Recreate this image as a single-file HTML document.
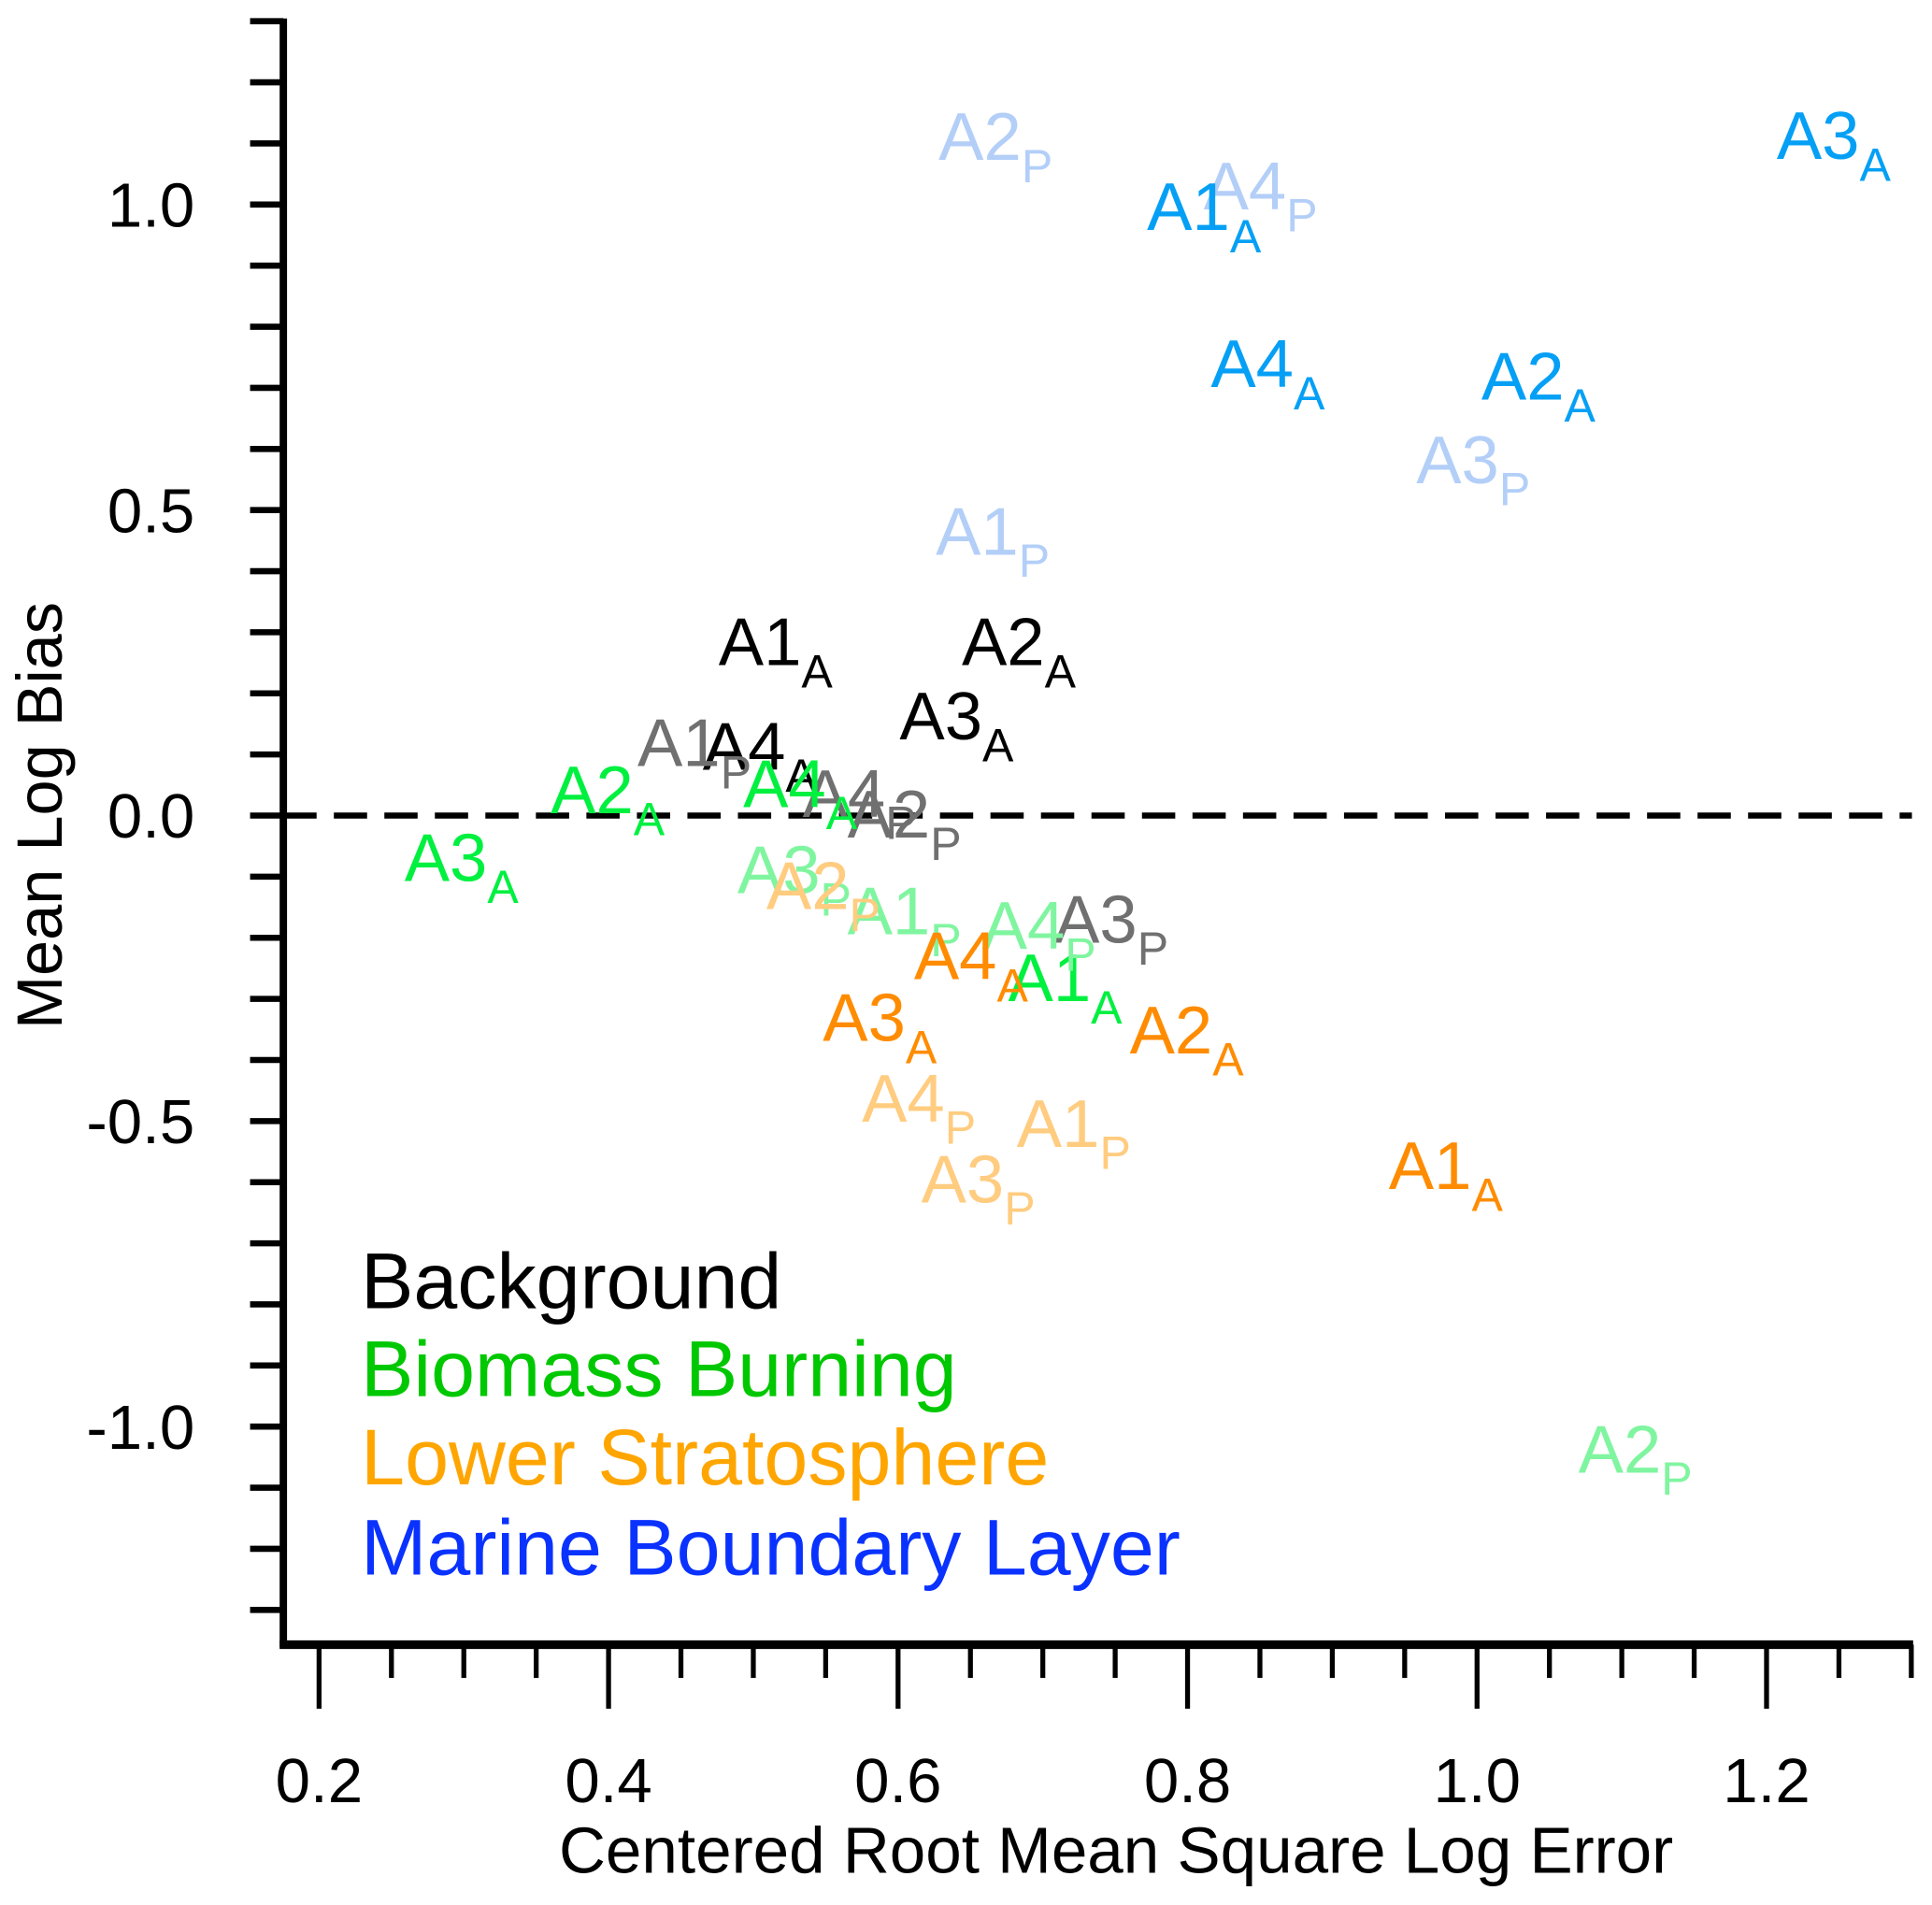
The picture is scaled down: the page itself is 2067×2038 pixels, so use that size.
<!DOCTYPE html>
<html><head><meta charset="utf-8"><style>
html,body{margin:0;padding:0;background:#fff;}
svg{display:block;font-family:"Liberation Sans",Arial,sans-serif;}
</style></head><body>
<svg id="chart" width="2067" height="2038" viewBox="0 0 1568.3 1546.3" xmlns="http://www.w3.org/2000/svg">
<g id="axes"></g>
<g id="marks"></g>
<g id="legend">
<text x="293" y="1062" font-size="64" fill="#000">Background</text>
<text x="293" y="1133" font-size="64" fill="#00c800">Biomass Burning</text>
<text x="293" y="1205" font-size="64" fill="#ffa500">Lower Stratosphere</text>
<text x="293" y="1278" font-size="64" fill="#0a32ff">Marine Boundary Layer</text>
</g>
</svg>
<script>
const xTickLabels = ["0.2","0.4","0.6","0.8","1.0","1.2"];
const xTickValues = [0.2,0.4,0.6,0.8,1.0,1.2];
const yTickLabels = ["1.0","0.5","0.0","-0.5","-1.0"];
const yTickValues = [1.0,0.5,0.0,-0.5,-1.0];
// label text, subscript, group, x value, y value
const pointNames = ["A2","A4","A3","A1","A3","A1","A4","A2",
 "A1","A2","A3","A4","A1","A4","A2","A3",
 "A2","A3","A4","A1","A3","A1","A4","A2",
 "A4","A3","A2","A1","A2","A4","A1","A3"];
const pointSubs = ["P","P","P","P","A","A","A","A",
 "A","A","A","A","P","P","P","P",
 "A","A","A","A","P","P","P","P",
 "A","A","A","A","P","P","P","P"];
const pointGroups = ["mblP","mblP","mblP","mblP","mblA","mblA","mblA","mblA",
 "bgA","bgA","bgA","bgA","bgP","bgP","bgP","bgP",
 "bbA","bbA","bbA","bbA","bbP","bbP","bbP","bbP",
 "lsA","lsA","lsA","lsA","lsP","lsP","lsP","lsP"];
const xValues = [0.628,0.811,0.958,0.626,1.207,0.772,0.816,1.003,
 0.476,0.644,0.601,0.465,0.42,0.534,0.565,0.708,
 0.36,0.259,0.493,0.676,0.489,0.565,0.658,1.07,
 0.611,0.548,0.76,0.939,0.509,0.575,0.682,0.616];
const yValues = [1.073,0.992,0.544,0.427,1.075,0.958,0.701,0.681,
 0.246,0.246,0.125,0.075,0.081,-0.002,-0.036,-0.208,
 0.004,-0.107,0.014,-0.304,-0.127,-0.194,-0.218,-1.075,
 -0.268,-0.369,-0.389,-0.611,-0.153,-0.501,-0.542,-0.633];
const groupColors = {mblP:"#b3cff8",mblA:"#05a0f5",bgA:"#000000",bgP:"#707070",
 bbA:"#00f040",bbP:"#80f5a0",lsA:"#ff8c00",lsP:"#ffcc80"};

const NS="http://www.w3.org/2000/svg";
function xScale(v){return 259+(v-0.2)*1175;}
function yScale(v){return 662-v*496;}
function mk(tag,attrs,parent){const e=document.createElementNS(NS,tag);for(const k in attrs)e.setAttribute(k,attrs[k]);parent.appendChild(e);return e;}
const axes=document.getElementById('axes');
let l=mk('line',{x1:230,y1:15,x2:230,y2:1337,stroke:'#000','stroke-width':6},axes);


l=mk('line',{x1:227,y1:1335,x2:1553,y2:1335,stroke:'#000','stroke-width':7},axes);


for(let i=-13;i<=13;i++){const v=i/10;
 const t=mk('line',{x1:203,x2:230,y1:yScale(v),y2:yScale(v),stroke:'#000','stroke-width':5},axes);
 
 }
yTickValues.forEach((v,i)=>{const t=mk('text',{x:158,y:yScale(v)+18,'font-size':51,'text-anchor':'end'},axes);t.textContent=yTickLabels[i];
 
 });
for(let i=0;i<=22;i++){const v=0.2+i*0.05;const major=(i%4===0);
 const t=mk('line',{x1:xScale(v),x2:xScale(v),y1:1335,y2:major?1387:1362,stroke:'#000','stroke-width':4},axes);
 
 }
xTickValues.forEach((v,i)=>{const t=mk('text',{x:xScale(v),y:1463,'font-size':51,'text-anchor':'middle'},axes);t.textContent=xTickLabels[i];
 
 });
let zl=mk('line',{x1:230,x2:1552,y1:yScale(0),y2:yScale(0),stroke:'#000','stroke-width':5,'stroke-dasharray':'27 14'},axes);


let xt=mk('text',{x:906,y:1520,'font-size':52.5,'text-anchor':'middle'},axes);xt.textContent='Centered Root Mean Square Log Error';


let yt=mk('text',{x:0,y:0,'font-size':52,'text-anchor':'middle',transform:'translate(50,662) rotate(-90)'},axes);yt.textContent='Mean Log Bias';


const marks=document.getElementById('marks');
pointNames.forEach((n,i)=>{
 const t=mk('text',{x:xScale(xValues[i]),y:yScale(yValues[i]),'font-size':55,fill:groupColors[pointGroups[i]]},marks);
 
 
 t.appendChild(document.createTextNode(n));
 const s=mk('tspan',{'font-size':38,dy:18},t);s.textContent=pointSubs[i];
});
</script>
</body></html>
